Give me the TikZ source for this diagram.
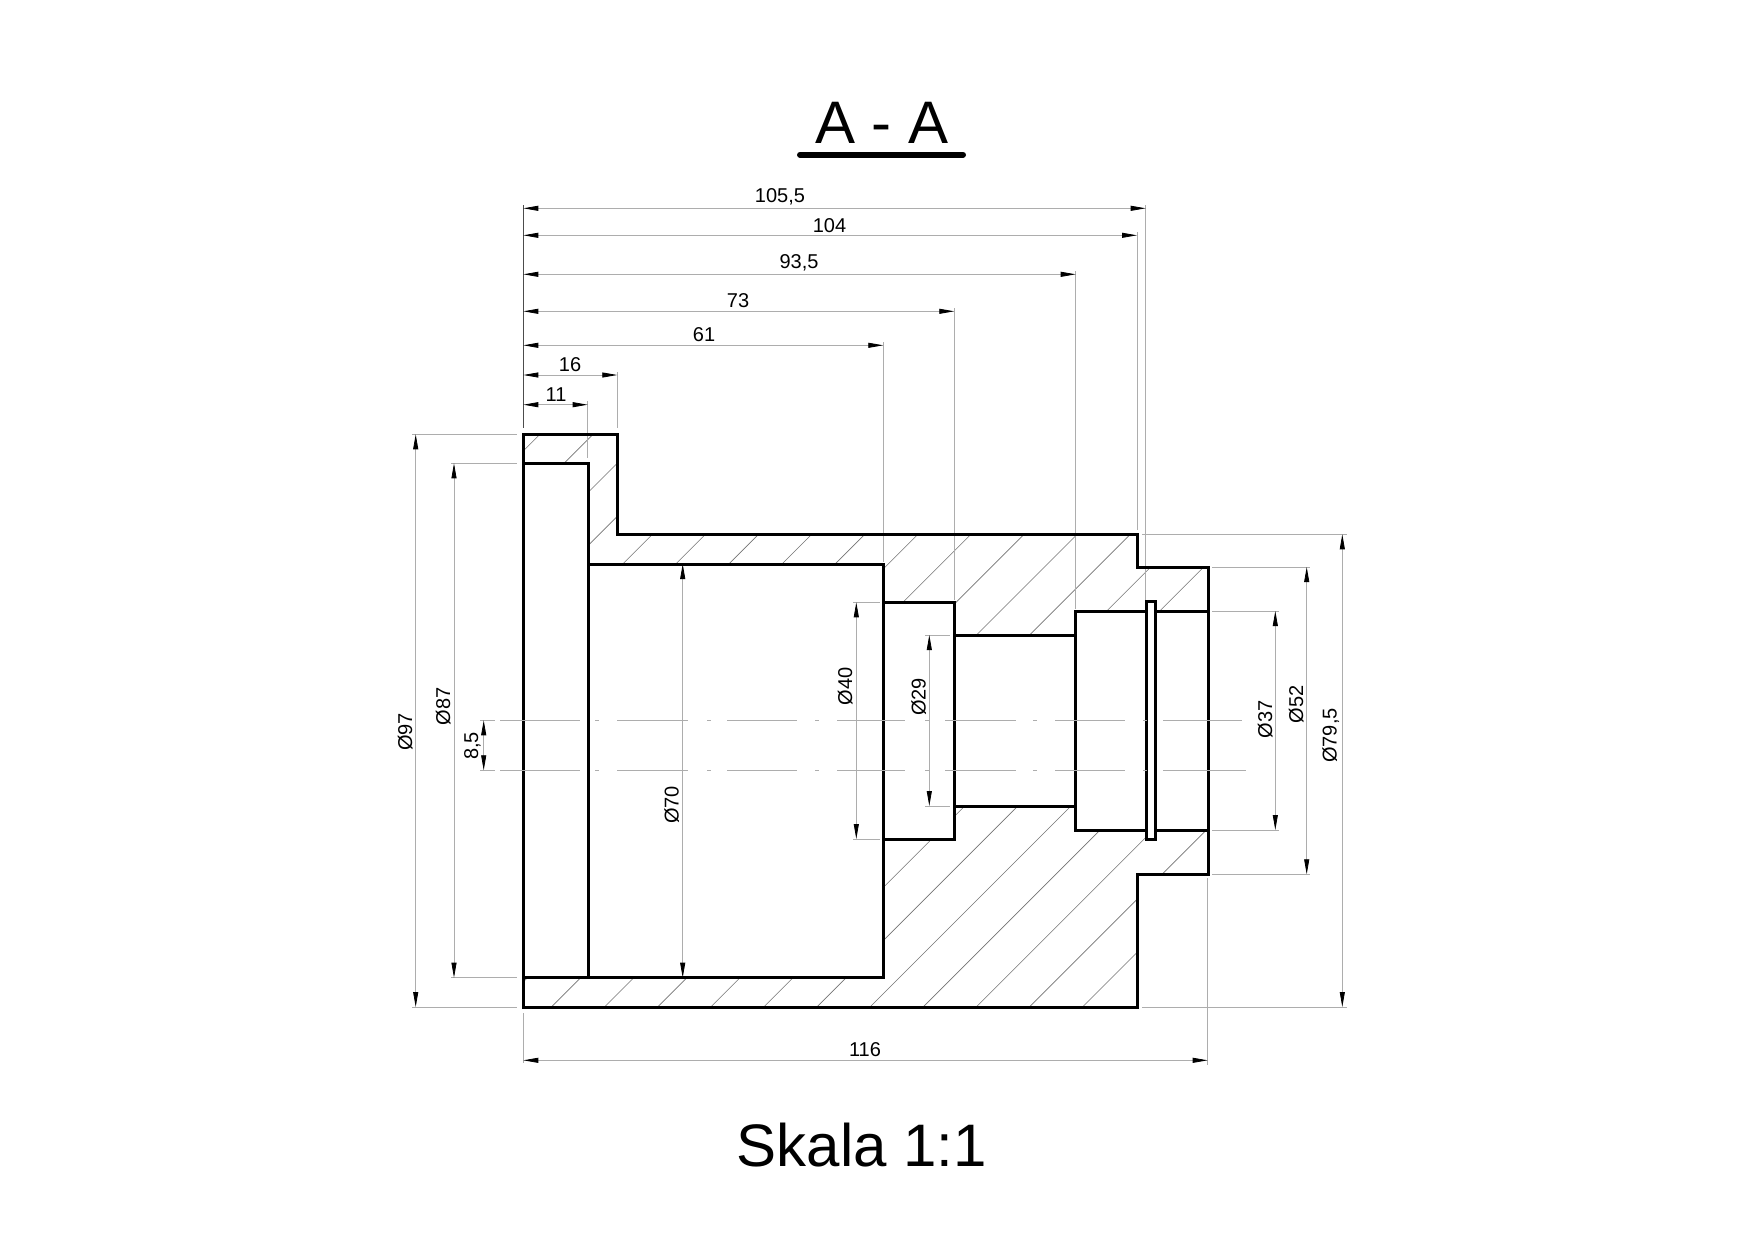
\documentclass[tikz,border=0pt]{standalone}
\usepackage{fontspec}
\setmainfont{Liberation Sans}
\usetikzlibrary{arrows.meta}
\tikzset{
  part/.style={line width=3pt,draw=black,line join=miter},
  hatchline/.style={line width=0.6pt,draw=black!55},
  ext/.style={line width=0.8pt,draw=black!32},
  extdark/.style={line width=0.8pt,draw=black!70},
  centerln/.style={line width=0.8pt,draw=black!32},
  dim/.style={line width=0.8pt,draw=black!32,{Triangle[length=15pt,width=5pt,color=black]}-{Triangle[length=15pt,width=5pt,color=black]}},
  lab/.style={inner sep=0pt,anchor=base,font=\fontsize{20}{20}\selectfont},
  vlab/.style={lab,rotate=90},
  bigtitle/.style={inner sep=0pt,anchor=base,font=\fontsize{60}{60}\selectfont},
}
\begin{document}
\begin{tikzpicture}[x=1pt,y=-1pt]
\useasboundingbox (0,0) rectangle (1754,1240);
\fill[white] (0,0) rectangle (1754,1240);
% section hatch
\begin{scope}[even odd rule]
\clip
  (523.5,434.3)--(617.3,434.3)--(617.3,534.3)--(1137,534.3)--(1137,567)--(1208,567)--(1208,874.3)--(1137,874.3)--(1137,1007)--(523.5,1007)--cycle
  (523.5,463.3)--(588,463.3)--(588,564)--(883.3,564)--(883.3,602.3)--(954.3,602.3)--(954.3,635)--(1075.7,635)--(1075.7,611)--(1208,611)--(1208,830)--(1075.7,830)--(1075.7,806)--(954.3,806)--(954.3,839)--(883.3,839)--(883.3,977.7)--(523.5,977.7)--cycle;
\foreach \k in {-20,...,8}
  \draw[hatchline] ({870+53.1*\k+600},{1007-600}) -- ({870+53.1*\k-0},1007);
\end{scope}
% extension lines
\draw[extdark] (523.3,205)--(523.3,428);
\draw[ext] (523.3,1013)--(523.3,1063);
\draw[ext] (587.7,401)--(587.7,458);
\draw[ext] (617.3,372)--(617.3,428);
\draw[ext] (883.3,342)--(883.3,562);
\draw[ext] (954.3,308)--(954.3,600);
\draw[ext] (1075.7,271)--(1075.7,609);
\draw[ext] (1137,232)--(1137,530);
\draw[ext] (1145.7,205)--(1145.7,600);
\draw[ext] (1207.7,878)--(1207.7,1065);
\draw[ext] (412,434.3)--(517,434.3);
\draw[ext] (412,1007)--(517,1007);
\draw[ext] (451,463.3)--(517,463.3);
\draw[ext] (451,977.7)--(517,977.7);
\draw[ext] (1142,534.3)--(1347,534.3);
\draw[ext] (1142,1007)--(1347,1007);
\draw[ext] (1212,567)--(1310,567);
\draw[ext] (1212,874.3)--(1310,874.3);
\draw[ext] (1212,611)--(1279,611);
\draw[ext] (1212,830)--(1279,830);
\draw[ext] (853,602.3)--(880,602.3);
\draw[ext] (853,839)--(880,839);
\draw[ext] (925,635)--(950,635);
\draw[ext] (925,806)--(950,806);
% outline
\draw[part] (523.5,434.3)--(617.3,434.3)--(617.3,534.3)--(1137,534.3)--(1137,567)--(1208,567)--(1208,874.3)--(1137,874.3)--(1137,1007)--(523.5,1007)--cycle;
\draw[part] (523.5,463.3)--(588,463.3)--(588,564)--(883.3,564)--(883.3,602.3)--(954.3,602.3)--(954.3,635)--(1075.7,635)--(1075.7,611)--(1208,611)--(1208,830)--(1075.7,830)--(1075.7,806)--(954.3,806)--(954.3,839)--(883.3,839)--(883.3,977.7)--(523.5,977.7);
\draw[part] (588,977.7)--(588,564);
\draw[part] (883.3,602.3)--(883.3,839);
\draw[part] (954.3,635)--(954.3,806);
\draw[part] (1075.7,611)--(1075.7,830);
\draw[part,fill=white] (1146,601.7) rectangle (1155,839.3);
% centre lines
\foreach \y/\e in {720.3/1242,770.3/1246}{
  \draw[centerln] (480,\y)--(495,\y);
  \foreach \a/\b in {500/580,617/688,727/797,837/905,945/1016,1055/1125}
    \draw[centerln] (\a,\y)--(\b,\y);
  \draw[centerln] (1163,\y)--(\e,\y);
  \foreach \a in {595,707,815,925,1033,1143}
    \draw[centerln] (\a,\y)--(\a+4,\y);
}
% horizontal dimensions
\draw[dim] (523.3,208.3)--(1145.7,208.3);
\draw[dim] (523.3,235.3)--(1137,235.3);
\draw[dim] (523.3,274.3)--(1075.7,274.3);
\draw[dim] (523.3,311.3)--(954.3,311.3);
\draw[dim] (523.3,345.3)--(883.3,345.3);
\draw[dim] (523.3,375)--(617.3,375);
\draw[dim] (523.3,404.7)--(587.7,404.7);
\draw[dim] (523.3,1060.3)--(1207.7,1060.3);
% vertical dimensions
\draw[dim] (415.7,434.3)--(415.7,1007);
\draw[dim] (454,463.3)--(454,977.7);
\draw[dim] (682.7,564)--(682.7,977.7);
\draw[dim] (856.3,602.3)--(856.3,839);
\draw[dim] (929.3,635)--(929.3,806);
\draw[dim] (1275.3,611)--(1275.3,830);
\draw[dim] (1306.7,567)--(1306.7,874.3);
\draw[dim] (1342.3,534.3)--(1342.3,1007);
\draw[dim] (483.7,720.3)--(483.7,770.3);
% labels
\node[bigtitle] (title) at (881.7,143.3) {A - A};
\draw[line width=6pt,line cap=round] (800,154.7)--(963,154.7);
\node[bigtitle] (scale) at (862,1166.7) {Skala 1:1};
\node[lab] (d105) at (780,202.7) {105,5};
\node[lab] (d104) at (829.5,232) {104};
\node[lab] (d93) at (799,268.3) {93,5};
\node[lab] (d73) at (738,307.3) {73};
\node[lab] (d61) at (704,341.7) {61};
\node[lab] (d16) at (570,371.7) {16};
\node[lab] (d11) at (556,401.3) {11};
\node[lab] (d116) at (865,1056.7) {116};
\node[vlab] (p97) at (412,732) {Ø97};
\node[vlab] (p87) at (450,706.5) {Ø87};
\node[vlab] (p85) at (478,746) {8,5};
\node[vlab] (p70) at (678.5,805) {Ø70};
\node[vlab] (p40) at (852,686.5) {Ø40};
\node[vlab] (p29) at (925.5,697) {Ø29};
\node[vlab] (p37) at (1272,719.5) {Ø37};
\node[vlab] (p52) at (1303,704.5) {Ø52};
\node[vlab] (p795) at (1336.5,735.5) {Ø79,5};
\end{tikzpicture}
\end{document}
